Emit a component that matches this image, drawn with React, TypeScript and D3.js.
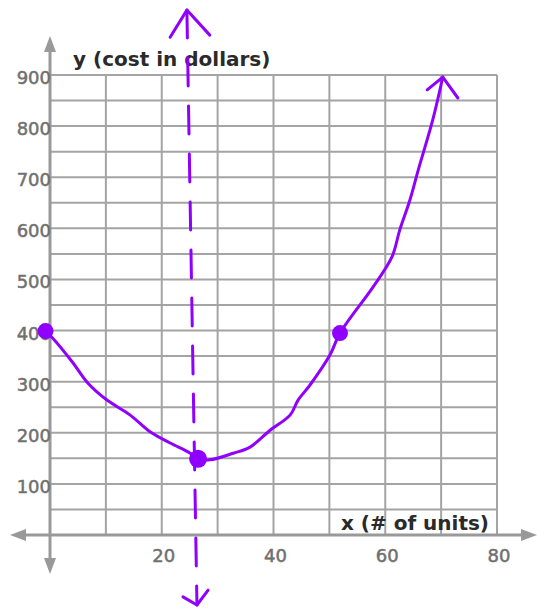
import React from "react";
import * as d3 from "d3";

const xTicks = [20, 40, 60, 80];
const yTicks = [100, 200, 300, 400, 500, 600, 700, 800, 900];
const xGrid = [10, 20, 30, 40, 50, 60, 70, 80];
const yGrid = [50, 100, 150, 200, 250, 300, 350, 400, 450, 500, 550, 600, 650, 700, 750, 800, 850, 900];

// hand-drawn cost curve (x units, y dollars)
const curveX = [-0.8, 0.5, 4.1, 6.8, 10.2, 14.3, 17.9, 21.5, 25.1, 26.5, 28.6, 32.8, 35.8, 39.4, 43.0, 44.4, 46.5, 50.1, 51.9, 57.8, 61.2, 62.6, 64.4, 65.9, 68.5, 70.3];
const curveY = [399, 385, 337, 297, 264, 235, 202, 180, 160, 149, 147, 160, 172, 205, 235, 264, 293, 352, 395, 485, 544, 597, 655, 714, 812, 896];
const curveArrowX = [67.5, 70.3, 73.0];
const curveArrowY = [871, 896, 855];

// marked points
const dotX = [-0.8, 26.5, 51.9];
const dotY = [399, 149, 395];
const dotR = [8, 9, 8];

// axis of symmetry (dashed)
const symX = [24.5, 26.3];
const symY = [1027, -137];
const symTopArrowX = [21.5, 24.5, 28.6];
const symTopArrowY = [974, 1027, 978];
const symBotArrowX = [23.8, 26.3, 28.3];
const symBotArrowY = [-121, -137, -108];

export default function App() {
  const W = 545, H = 611;
  const x = d3.scaleLinear().domain([0, 80]).range([50, 497]);
  const y = d3.scaleLinear().domain([0, 900]).range([535, 75]);
  const purple = "#8f00ff";
  const gridColor = "#a4a4a4";
  const axisColor = "#999";
  const tickColor = "#707070";

  const line = d3.line<[number, number]>().x(d => x(d[0])).y(d => y(d[1])).curve(d3.curveCatmullRom.alpha(0.5));
  const straight = d3.line<[number, number]>().x(d => x(d[0])).y(d => y(d[1]));
  const zip = (a: number[], b: number[]) => a.map((v, i) => [v, b[i]] as [number, number]);

  const x0 = x(0), y0 = y(0);

  return (
    <svg width={W} height={H} style={{ position: "absolute", left: 0, top: 0, background: "#fff" }}>
      {/* grid */}
      {xGrid.map(v => (
        <line key={"gx" + v} x1={x(v)} x2={x(v)} y1={y(900)} y2={y0} stroke={gridColor} strokeWidth={2} />
      ))}
      {yGrid.map(v => (
        <line key={"gy" + v} x1={x0} x2={x(80)} y1={y(v)} y2={y(v)} stroke={gridColor} strokeWidth={2} />
      ))}
      {/* axes */}
      <line x1={18} x2={528} y1={y0} y2={y0} stroke={axisColor} strokeWidth={3} />
      <line x1={x0} x2={x0} y1={44} y2={566} stroke={axisColor} strokeWidth={3} />
      <path d={`M10,${y0} L26,${y0 - 6} L26,${y0 + 6} Z`} fill={axisColor} />
      <path d={`M537,${y0} L521,${y0 - 6} L521,${y0 + 6} Z`} fill={axisColor} />
      <path d={`M${x0},36 L${x0 - 6},52 L${x0 + 6},52 Z`} fill={axisColor} />
      <path d={`M${x0},574 L${x0 - 6},558 L${x0 + 6},558 Z`} fill={axisColor} />
      {/* tick labels */}
      {yTicks.map(v => (
        <text key={"ty" + v} x={x0 + 1} y={y(v) + 9} textAnchor="end" fontFamily="DejaVu Sans" fontSize={18} fill={tickColor} stroke={tickColor} strokeWidth={0.5}>{v}</text>
      ))}
      {xTicks.map(v => (
        <text key={"tx" + v} x={x(v) + 2} y={y0 + 27} textAnchor="middle" fontFamily="DejaVu Sans" fontSize={18} fill={tickColor} stroke={tickColor} strokeWidth={0.5}>{v}</text>
      ))}
      {/* axis titles */}
      <text x={73} y={66} fontFamily="DejaVu Sans" fontWeight="bold" fontSize={20} fill="#2a2a2a">y (cost in dollars)</text>
      <text x={489} y={530} textAnchor="end" fontFamily="DejaVu Sans" fontWeight="bold" fontSize={20} fill="#2a2a2a">x (# of units)</text>
      {/* symmetry line */}
      <path d={straight(zip(symX, symY)) || ""} stroke={purple} strokeWidth={3} fill="none" strokeDasharray="28 20" strokeLinecap="round" />
      <path d={straight(zip(symTopArrowX, symTopArrowY)) || ""} stroke={purple} strokeWidth={3} fill="none" strokeLinecap="round" strokeLinejoin="round" />
      <path d={straight(zip(symBotArrowX, symBotArrowY)) || ""} stroke={purple} strokeWidth={3} fill="none" strokeLinecap="round" strokeLinejoin="round" />
      {/* curve */}
      <path d={line(zip(curveX, curveY)) || ""} stroke={purple} strokeWidth={3} fill="none" strokeLinecap="round" strokeLinejoin="round" />
      <path d={straight(zip(curveArrowX, curveArrowY)) || ""} stroke={purple} strokeWidth={3} fill="none" strokeLinecap="round" strokeLinejoin="round" />
      {dotX.map((v, i) => (
        <circle key={"d" + i} cx={x(v)} cy={y(dotY[i])} r={dotR[i]} fill={purple} />
      ))}
    </svg>
  );
}
